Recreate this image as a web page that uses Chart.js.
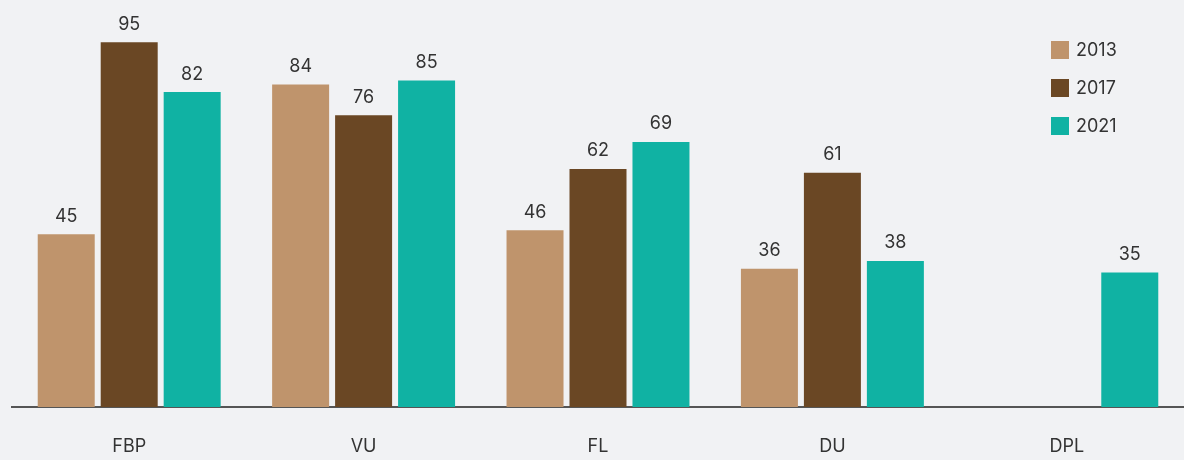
<!DOCTYPE html>
<html>
<head>
<meta charset="utf-8">
<script src="https://cdn.jsdelivr.net/npm/chart.js@4"></script>
<style>
  body { margin: 0; background: #f1f2f4; }
  #wrap { width: 1184px; height: 460px; }
</style>
</head>
<body>
<div id="wrap"><canvas id="barChart"></canvas></div>
<script>
var categories = ['FBP', 'VU', 'FL', 'DU', 'DPL'];
var years = ['2013', '2017', '2021'];
var values2013 = [45, 84, 46, 36, null];
var values2017 = [95, 76, 62, 61, null];
var values2021 = [82, 85, 69, 38, 35];
var colors = ['rgb(191, 148, 108)', 'rgb(106, 71, 36)', 'rgb(16, 178, 163)'];

var font = 'Inter, "Open Sans", sans-serif';

// numbers above bars
var valueLabels = {
    id: 'valueLabels',
    afterDatasetsDraw: function (chart) {
        var ctx = chart.ctx;
        ctx.save();
        ctx.fillStyle = '#333';
        ctx.font = '18px ' + font;
        ctx.textAlign = 'center';
        ctx.textBaseline = 'bottom';
        chart.data.datasets.forEach(function (ds, i) {
            chart.getDatasetMeta(i).data.forEach(function (bar, j) {
                if (ds.data[j] == null) return;
                ctx.fillText(ds.data[j], bar.x, bar.y - 9);
            });
        });
        ctx.restore();
    }
};

// legend in the top right corner
var cornerLegend = {
    id: 'cornerLegend',
    afterDraw: function (chart) {
        var ctx = chart.ctx;
        ctx.save();
        ctx.font = '18px ' + font;
        ctx.textBaseline = 'middle';
        chart.data.datasets.forEach(function (ds, i) {
            var y = 50 + i * 38;
            ctx.fillStyle = ds.backgroundColor;
            ctx.fillRect(1051, y - 9, 18, 18);
            ctx.fillStyle = '#333';
            ctx.fillText(ds.label, 1076, y + 1);
        });
        ctx.restore();
    }
};

var ctx = document.getElementById('barChart').getContext('2d');
var myChart = new Chart(ctx, {
    type: 'bar',
    data: {
        labels: categories,
        datasets: [
            { label: years[0], data: values2013, backgroundColor: colors[0] },
            { label: years[1], data: values2017, backgroundColor: colors[1] },
            { label: years[2], data: values2021, backgroundColor: colors[2] }
        ]
    },
    options: {
        responsive: true,
        maintainAspectRatio: false,
        animation: false,
        categoryPercentage: 0.806,
        barPercentage: 0.905,
        layout: { padding: { left: 12, right: 0, top: 23, bottom: 0 } },
        plugins: {
            legend: { display: false },
            tooltip: { enabled: false }
        },
        scales: {
            x: {
                grid: { display: false, drawTicks: false },
                border: { display: true, color: '#555', width: 2 },
                ticks: { color: '#333', font: { size: 18, family: font }, padding: 29 },
                afterFit: function (scale) { scale.height = 53; }
            },
            y: {
                display: false,
                min: 0,
                max: 100
            }
        }
    },
    plugins: [valueLabels, cornerLegend]
});
</script>
</body>
</html>
